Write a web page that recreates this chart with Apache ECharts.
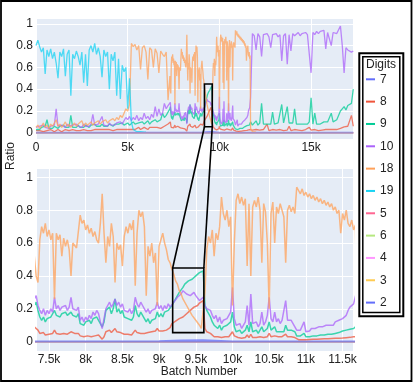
<!DOCTYPE html>
<html>
<head>
<meta charset="utf-8">
<script src="https://cdn.jsdelivr.net/npm/echarts@6/dist/echarts.min.js"></script>
<style>
  html, body { margin: 0; padding: 0; background: #fff; }
  #chart { width: 415px; height: 383px; }
</style>
</head>
<body>
<div id="chart"></div>
<script>
  // sampling grid of batch numbers: coarse, fine around the zoomed window, coarse again
  const batchSegments = [[0, 7200, 100], [7300, 11675, 25], [11700, 17300, 100]]
  const batches = []
  batchSegments.forEach(([from, to, step]) => {
    for (let b = from; b <= to; b += step) batches.push(b)
  })
  // digits that stay at ~0 are read on a coarser grid
  const flatBatches = [0, 2000, 4000, 6000, 8000, 9000, 9300, 9600, 10000, 12000, 14000, 16000, 17300]

  const ratio7 = [0.004, 0.003, 0.004, 0.003, 0.003, 0.004, 0.008, 0.01, 0.003, 0.003, 0.004, 0.003, 0.004]
  const ratioZero = [0, 0, 0, 0, 0, 0, 0, 0, 0, 0, 0, 0, 0]

  const ratio8 = [
    0.02, 0.01, 0.02, 0.03, 0.01, 0.02, 0.02, 0.01, 0.03, 0.02,
    0.01, 0.02, 0.03, 0.02, 0.01, 0.02, 0.03, 0.02, 0.02, 0.01,
    0.03, 0.02, 0.02, 0.03, 0.02, 0.01, 0.03, 0.02, 0.02, 0.03,
    0.02, 0.02, 0.03, 0.02, 0.03, 0.02, 0.03, 0.02, 0.03, 0.02,
    0.03, 0.03, 0.02, 0.03, 0.03, 0.02, 0.03, 0.04, 0.03, 0.04,
    0.03, 0.04, 0.03, 0.04, 0.03, 0.04, 0.05, 0.03, 0.04, 0.05,
    0.04, 0.03, 0.05, 0.04, 0.05, 0.04, 0.05, 0.06, 0.04, 0.05,
    0.06, 0.07, 0.08,
    0.09, 0.10, 0.07, 0.05, 0.045, 0.055, 0.04, 0.05, 0.045, 0.055, 0.05, 0.07, 0.05, 0.055, 0.045, 0.055, 0.05, 0.06, 0.045, 0.055,
    0.06, 0.05, 0.05, 0.045, 0.05, 0.035, 0.04, 0.03, 0.04, 0.035, 0.04, 0.03, 0.04, 0.035, 0.045, 0.04, 0.035, 0.015, 0.03, 0.06,
    0.06, 0.07, 0.055, 0.065, 0.08, 0.06, 0.065, 0.055, 0.06, 0.045, 0.05, 0.045, 0.05, 0.04, 0.05, 0.07, 0.055, 0.045, 0.05, 0.045,
    0.05, 0.045, 0.055, 0.05, 0.06, 0.055, 0.065, 0.08, 0.065, 0.07, 0.065, 0.075, 0.07, 0.08, 0.085, 0.11, 0.12, 0.125, 0.13, 0.14,
    0.14, 0.15, 0.16, 0.17, 0.18, 0.19, 0.20, 0.21, 0.215, 0.22, 0.235, 0.24, 0.25, 0.08, 0.06, 0.07, 0.05, 0.04, 0.03, 0.04,
    0.03, 0.035, 0.025, 0.03, 0.03, 0.035, 0.03, 0.04, 0.06, 0.035, 0.03, 0.025, 0.03, 0.02, 0.03, 0.025, 0.04, 0.025, 0.045, 0.025,
    0.03, 0.025, 0.02, 0.03, 0.035, 0.025, 0.03, 0.03, 0.05, 0.03, 0.025, 0.035, 0.025, 0.03, 0.025, 0.03, 0.025, 0.045, 0.03, 0.025,
    0.03, 0.025, 0.025, 0.015, 0.012, 0.015, 0.012, 0.02, 0.012, 0.015, 0.013, 0.016, 0.014, 0.016, 0.015, 0.018, 0.016, 0.018, 0.017, 0.019,
    0.018, 0.02, 0.019, 0.021, 0.02, 0.022, 0.021, 0.024, 0.022, 0.025, 0.024, 0.027, 0.026, 0.028, 0.03, 0.03,
    0.03, 0.025, 0.02, 0.03, 0.02, 0.025, 0.02, 0.03, 0.025, 0.08,
    0.02, 0.025, 0.03, 0.02, 0.025, 0.02, 0.03, 0.025, 0.02, 0.03,
    0.025, 0.06, 0.02, 0.025, 0.03, 0.02, 0.025, 0.03, 0.02, 0.025,
    0.03, 0.025, 0.05, 0.025, 0.02, 0.03, 0.025, 0.02, 0.03, 0.025,
    0.02, 0.03, 0.025, 0.03, 0.025, 0.03, 0.025, 0.03, 0.035, 0.04,
    0.05, 0.055, 0.05, 0.06, 0.055, 0.16, 0.06
  ]

  const ratio9 = [
    0.03, 0.04, 0.03, 0.05, 0.04, 0.06, 0.12, 0.04, 0.05, 0.04,
    0.06, 0.05, 0.04, 0.06, 0.05, 0.07, 0.05, 0.06, 0.05, 0.16,
    0.05, 0.06, 0.05, 0.07, 0.05, 0.06, 0.05, 0.07, 0.06, 0.05,
    0.07, 0.06, 0.08, 0.06, 0.07, 0.06, 0.08, 0.06, 0.07, 0.06,
    0.08, 0.07, 0.06, 0.08, 0.07, 0.08, 0.07, 0.09, 0.07, 0.08,
    0.09, 0.07, 0.08, 0.10, 0.08, 0.07, 0.09, 0.08, 0.10, 0.08,
    0.09, 0.11, 0.08, 0.10, 0.09, 0.12, 0.10, 0.11, 0.12, 0.18,
    0.14, 0.16, 0.15,
    0.22, 0.24, 0.19, 0.15, 0.13, 0.15, 0.12, 0.14, 0.13, 0.15, 0.14, 0.19, 0.16, 0.17, 0.15, 0.17, 0.16, 0.18, 0.16, 0.17,
    0.18, 0.16, 0.17, 0.15, 0.17, 0.11, 0.12, 0.10, 0.12, 0.11, 0.13, 0.11, 0.14, 0.13, 0.15, 0.13, 0.12, 0.09, 0.12, 0.19,
    0.18, 0.21, 0.17, 0.20, 0.26, 0.18, 0.20, 0.17, 0.19, 0.15, 0.16, 0.14, 0.15, 0.13, 0.15, 0.22, 0.17, 0.15, 0.18, 0.16,
    0.14, 0.12, 0.14, 0.11, 0.13, 0.12, 0.14, 0.18, 0.15, 0.17, 0.15, 0.18, 0.17, 0.19, 0.20, 0.22, 0.24, 0.26, 0.28, 0.30,
    0.31, 0.33, 0.35, 0.36, 0.37, 0.36, 0.38, 0.39, 0.40, 0.41, 0.42, 0.42, 0.43, 0.22, 0.19, 0.17, 0.15, 0.12, 0.10, 0.11,
    0.08, 0.10, 0.07, 0.09, 0.08, 0.10, 0.09, 0.12, 0.18, 0.09, 0.06, 0.05, 0.07, 0.05, 0.06, 0.07, 0.10, 0.06, 0.12, 0.06,
    0.06, 0.07, 0.05, 0.06, 0.09, 0.06, 0.07, 0.08, 0.12, 0.07, 0.06, 0.09, 0.06, 0.07, 0.06, 0.07, 0.06, 0.10, 0.07, 0.06,
    0.07, 0.06, 0.06, 0.035, 0.03, 0.035, 0.03, 0.05, 0.03, 0.035, 0.03, 0.04, 0.035, 0.04, 0.035, 0.04, 0.04, 0.045, 0.04, 0.045,
    0.045, 0.05, 0.045, 0.055, 0.05, 0.06, 0.055, 0.06, 0.065, 0.06, 0.07, 0.065, 0.075, 0.07, 0.08, 0.08,
    0.10, 0.07, 0.08, 0.11, 0.07, 0.09, 0.27, 0.08, 0.07, 0.08,
    0.09, 0.08, 0.19, 0.08, 0.07, 0.09, 0.08, 0.26, 0.09, 0.08,
    0.24, 0.09, 0.08, 0.09, 0.22, 0.08, 0.09, 0.08, 0.09, 0.08,
    0.09, 0.08, 0.10, 0.32, 0.08, 0.18, 0.08, 0.09, 0.08, 0.09,
    0.10, 0.09, 0.10, 0.11, 0.18, 0.10, 0.11, 0.12, 0.13, 0.20,
    0.22, 0.24, 0.21, 0.25, 0.24, 0.27, 0.40
  ]

  const ratio10 = [
    0.05, 0.04, 0.06, 0.05, 0.07, 0.05, 0.06, 0.04, 0.06, 0.05,
    0.07, 0.22, 0.06, 0.05, 0.07, 0.06, 0.05, 0.08, 0.06, 0.05,
    0.07, 0.06, 0.08, 0.06, 0.07, 0.05, 0.08, 0.06, 0.07, 0.06,
    0.08, 0.17, 0.07, 0.06, 0.08, 0.07, 0.15, 0.07, 0.08, 0.06,
    0.09, 0.07, 0.08, 0.07, 0.09, 0.08, 0.10, 0.08, 0.11, 0.14,
    0.12, 0.15, 0.11, 0.14, 0.12, 0.16, 0.11, 0.14, 0.12, 0.18,
    0.13, 0.15, 0.12, 0.17, 0.14, 0.24, 0.15, 0.22, 0.16, 0.18,
    0.27, 0.22, 0.25,
    0.26, 0.28, 0.22, 0.19, 0.17, 0.20, 0.16, 0.19, 0.17, 0.20, 0.18, 0.27, 0.20, 0.22, 0.19, 0.21, 0.20, 0.22, 0.19, 0.21,
    0.27, 0.20, 0.21, 0.19, 0.21, 0.13, 0.15, 0.12, 0.15, 0.13, 0.16, 0.14, 0.18, 0.16, 0.19, 0.17, 0.12, 0.08, 0.14, 0.20,
    0.22, 0.24, 0.21, 0.23, 0.26, 0.22, 0.24, 0.21, 0.23, 0.19, 0.20, 0.18, 0.20, 0.17, 0.19, 0.27, 0.23, 0.21, 0.24, 0.22,
    0.20, 0.18, 0.20, 0.17, 0.19, 0.18, 0.20, 0.24, 0.20, 0.22, 0.19, 0.22, 0.20, 0.23, 0.21, 0.22, 0.24, 0.25, 0.27, 0.28,
    0.29, 0.31, 0.30, 0.29, 0.30, 0.28, 0.29, 0.30, 0.28, 0.27, 0.25, 0.26, 0.27, 0.22, 0.20, 0.21, 0.19, 0.16, 0.14, 0.16,
    0.12, 0.15, 0.11, 0.13, 0.12, 0.14, 0.13, 0.18, 0.33, 0.14, 0.10, 0.09, 0.11, 0.08, 0.10, 0.12, 0.22, 0.10, 0.29, 0.11,
    0.10, 0.12, 0.09, 0.11, 0.18, 0.10, 0.12, 0.16, 0.27, 0.14, 0.12, 0.18, 0.12, 0.14, 0.11, 0.13, 0.12, 0.25, 0.13, 0.12,
    0.13, 0.11, 0.12, 0.07, 0.06, 0.07, 0.06, 0.12, 0.06, 0.07, 0.065, 0.08, 0.07, 0.08, 0.075, 0.09, 0.08, 0.09, 0.085, 0.10,
    0.09, 0.10, 0.11, 0.10, 0.12, 0.11, 0.13, 0.12, 0.14, 0.13, 0.16, 0.19, 0.21, 0.20, 0.23, 0.22,
    0.32, 0.91, 0.89, 0.76, 0.91, 0.88, 0.70, 0.90, 0.89, 0.91,
    0.88, 0.78, 0.90, 0.89, 0.91, 0.88, 0.90, 0.66, 0.89, 0.91,
    0.63, 0.90, 0.75, 0.91, 0.89, 0.90, 0.92, 0.89, 0.91, 0.90,
    0.92, 0.90, 0.91, 0.55, 0.92, 0.90, 0.93, 0.91, 0.93, 0.92,
    0.94, 0.77, 0.92, 0.93, 0.80, 0.92, 0.93, 0.91, 0.92, 0.98,
    0.80, 0.55, 0.78, 0.76, 0.77, 0.74, 0.75
  ]

  const ratio18 = [
    0.05, 0.07, 0.04, 0.06, 0.09, 0.05, 0.07, 0.04, 0.08, 0.06,
    0.05, 0.12, 0.06, 0.08, 0.05, 0.07, 0.10, 0.06, 0.08, 0.05,
    0.07, 0.09, 0.06, 0.08, 0.07, 0.11, 0.06, 0.09, 0.07, 0.08,
    0.10, 0.07, 0.09, 0.08, 0.11, 0.08, 0.10, 0.09, 0.12, 0.09,
    0.11, 0.10, 0.13, 0.11, 0.14, 0.12, 0.16, 0.14, 0.18, 0.22,
    0.20, 0.26, 0.82, 0.79, 0.81, 0.76, 0.80, 0.58, 0.78, 0.80,
    0.74, 0.49, 0.78, 0.76, 0.60, 0.77, 0.73, 0.55, 0.75, 0.72,
    0.70, 0.74, 0.30,
    0.52, 0.40, 0.36, 0.62, 0.70, 0.66, 0.72, 0.64, 0.68, 0.62, 0.66, 0.26, 0.66, 0.62, 0.65, 0.52, 0.63, 0.58, 0.62, 0.56,
    0.40, 0.60, 0.59, 0.57, 0.58, 0.77, 0.72, 0.74, 0.68, 0.71, 0.66, 0.69, 0.64, 0.67, 0.62, 0.60, 0.72, 0.90, 0.66, 0.48,
    0.64, 0.58, 0.72, 0.64, 0.36, 0.60, 0.56, 0.59, 0.46, 0.64, 0.70, 0.66, 0.72, 0.68, 0.74, 0.34, 0.66, 0.80, 0.76, 0.79,
    0.70, 0.28, 0.58, 0.52, 0.60, 0.48, 0.54, 0.22, 0.58, 0.62, 0.66, 0.60, 0.56, 0.50, 0.48, 0.44, 0.41, 0.37, 0.35, 0.31,
    0.29, 0.26, 0.25, 0.22, 0.20, 0.18, 0.16, 0.15, 0.13, 0.12, 0.10, 0.08, 0.07, 0.30, 0.56, 0.64, 0.60, 0.68, 0.52, 0.66,
    0.62, 0.70, 0.88, 0.78, 0.74, 0.80, 0.70, 0.76, 0.22, 0.60, 0.86, 0.90, 0.84, 0.88, 0.83, 0.87, 0.46, 0.84, 0.40, 0.82,
    0.86, 0.82, 0.88, 0.80, 0.48, 0.84, 0.79, 0.60, 0.20, 0.78, 0.85, 0.60, 0.82, 0.78, 0.84, 0.80, 0.76, 0.48, 0.80, 0.83,
    0.79, 0.82, 0.78, 0.94, 0.92, 0.90, 0.93, 0.89, 0.91, 0.88, 0.90, 0.87, 0.89, 0.86, 0.88, 0.85, 0.87, 0.84, 0.86, 0.83,
    0.85, 0.82, 0.84, 0.80, 0.82, 0.78, 0.80, 0.66, 0.78, 0.74, 0.80, 0.72, 0.70, 0.74, 0.68, 0.71,
    0.04, 0.01, 0.005, 0.005
  ]

  const ratio19 = [
    0.80, 0.85, 0.79, 0.74, 0.78, 0.54, 0.76, 0.70, 0.77, 0.68,
    0.74, 0.64, 0.50, 0.74, 0.70, 0.77, 0.52, 0.72, 0.76, 0.34,
    0.72, 0.68, 0.75, 0.70, 0.62, 0.74, 0.46, 0.72, 0.43, 0.76,
    0.80, 0.74, 0.82, 0.72, 0.78, 0.70, 0.51, 0.76, 0.70, 0.74,
    0.40, 0.72, 0.66, 0.74, 0.34, 0.68, 0.31, 0.62, 0.56, 0.60,
    0.22, 0.50, 0.10, 0.03, 0.02, 0.01, 0.01, 0.01, 0.005, 0.005,
    0.005
  ]

  const digits = ['7', '8', '9', '10', '18', '19', '5', '6', '4', '3', '2']
  const digitSeries = {
    '7': [flatBatches, ratio7],
    '8': [batches, ratio8],
    '9': [batches, ratio9],
    '10': [batches, ratio10],
    '18': [batches, ratio18],
    '19': [batches, ratio19],
    '5': [flatBatches, ratioZero],
    '6': [flatBatches, ratioZero],
    '4': [flatBatches, ratioZero],
    '3': [flatBatches, ratioZero],
    '2': [flatBatches, ratioZero]
  }
  const yTicks = [0, 0.2, 0.4, 0.6, 0.8, 1]
  const zoomBatches = [9185, 9610]
  const zoomRatios = [0.055, 0.448]

  const colors = {
    '7': '#636efa', '8': '#ef553b', '9': '#00cc96', '10': '#ab63fa', '18': '#ffa15a',
    '19': '#19d3f3', '5': '#ff6692', '6': '#b6e880', '4': '#ff97ff', '3': '#fecb52', '2': '#636efa'
  }
  const font = "'Liberation Sans', Arial, sans-serif"
  const ink = '#222'

  const chart = echarts.init(document.getElementById('chart'), null, { renderer: 'canvas' })

  const kLabel = v => {
    if (Math.abs(v % 500) > 1e-6) return ''
    return v === 0 ? '0' : (v / 1000) + 'k'
  }
  const ratioLabel = v => {
    const hit = yTicks.find(t => Math.abs(t - v) < 1e-6)
    return hit === undefined ? '' : String(hit)
  }

  const xAxisCommon = {
    type: 'value',
    axisLine: { show: false },
    axisTick: { show: false },
    splitLine: { show: true, lineStyle: { color: '#fff', width: 1 } },
    axisLabel: { fontSize: 12, color: ink, fontFamily: font, margin: 3, formatter: kLabel }
  }
  const yAxisCommon = {
    type: 'value',
    splitNumber: 5,
    axisLine: { show: false },
    axisTick: { show: false },
    splitLine: { show: true, lineStyle: { color: '#fff', width: 1 } },
    axisLabel: { fontSize: 12, color: ink, fontFamily: font, margin: 3, formatter: ratioLabel }
  }

  const series = []
  ;[0, 1].forEach(grid => {
    digits.forEach(d => {
      const [xs, ys] = digitSeries[d]
      series.push({
        name: d,
        type: 'line',
        xAxisIndex: grid,
        yAxisIndex: grid,
        data: ys.map((v, i) => [xs[i], v]),
        showSymbol: false,
        symbol: 'none',
        silent: true,
        animation: false,
        clip: true,
        color: colors[d],
        itemStyle: { color: colors[d] },
        lineStyle: { color: colors[d], width: grid === 0 ? 1.3 : 1.5, opacity: 0.75, join: 'bevel' }
      })
    })
  })

  const option = {
    animation: false,
    backgroundColor: '#fff',
    textStyle: { fontFamily: font },
    grid: [
      { left: 36, top: 18, width: 317, height: 121, show: true, backgroundColor: '#e5ecf6', borderWidth: 0 },
      { left: 36, top: 168, width: 317, height: 183, show: true, backgroundColor: '#e5ecf6', borderWidth: 0 }
    ],
    xAxis: [
      Object.assign({}, xAxisCommon, { gridIndex: 0, min: 0, max: 17285, interval: 5000 }),
      Object.assign({}, xAxisCommon, { gridIndex: 1, min: 7323, max: 11642, splitNumber: 8 })
    ],
    yAxis: [
      Object.assign({}, yAxisCommon, { gridIndex: 0, min: -0.057, max: 1.053 }),
      Object.assign({}, yAxisCommon, { gridIndex: 1, min: -0.057, max: 1.057 })
    ],
    legend: {
      orient: 'vertical',
      left: 366,
      top: 72.3,
      padding: 0,
      itemWidth: 9,
      itemHeight: 2,
      itemGap: 8.33,
      icon: 'rect',
      selectedMode: false,
      data: digits,
      textStyle: { fontSize: 12, color: ink, fontFamily: font, lineHeight: 14 }
    },
    series
  }
  chart.setOption(option)

  // zoom window annotations, placed through the axes
  const px = (grid, b, r) => chart.convertToPixel({ gridIndex: grid }, [b, r])
  const boxFor = grid => {
    const tl = px(grid, zoomBatches[0], zoomRatios[1])
    const br = px(grid, zoomBatches[1], zoomRatios[0])
    return {
      type: 'rect', z: 100,
      shape: { x: tl[0], y: tl[1], width: br[0] - tl[0], height: br[1] - tl[1] },
      style: { fill: 'none', stroke: '#000', lineWidth: 1.6 }
    }
  }
  const link = b => {
    const a = px(0, b, zoomRatios[0])
    const c = px(1, b, zoomRatios[1])
    return {
      type: 'line', z: 100,
      shape: { x1: a[0], y1: a[1], x2: c[0], y2: c[1] },
      style: { stroke: '#000', lineWidth: 1.6 }
    }
  }

  chart.setOption({
    graphic: [
      { type: 'rect', z: 100, shape: { x: 1, y: 1, width: 410.5, height: 380 }, style: { fill: 'none', stroke: '#000', lineWidth: 1.8 } },
      { type: 'rect', z: 100, shape: { x: 359.3, y: 53.2, width: 44, height: 263 }, style: { fill: 'none', stroke: '#000', lineWidth: 2 } },
      { type: 'rect', z: 100, shape: { x: 362.8, y: 56.8, width: 37, height: 255.7 }, style: { fill: 'none', stroke: '#000', lineWidth: 1.5 } },
      { type: 'text', z: 100, left: 366, top: 58.5, style: { text: 'Digits', font: '12px ' + font, fill: ink } },
      { type: 'text', z: 100, x: 11, y: 156, rotation: Math.PI / 2, style: { text: 'Ratio', font: '12px ' + font, fill: ink, align: 'center', verticalAlign: 'middle' } },
      { type: 'text', z: 100, x: 199, y: 372, style: { text: 'Batch Number', font: '12px ' + font, fill: ink, align: 'center', verticalAlign: 'middle' } },
      boxFor(0),
      boxFor(1),
      link(zoomBatches[0]),
      link(zoomBatches[1])
    ]
  })
</script>
</body>
</html>
